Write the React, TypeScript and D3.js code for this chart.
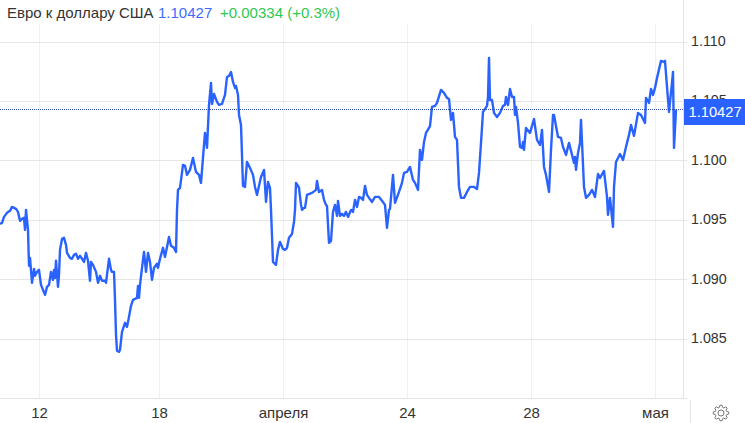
import React from "react";
import * as d3 from "d3";

const W = 745;
const H = 423;

const titleName = "Евро к доллару США";
const titleValue = "1.10427";
const titleChange = "+0.00334 (+0.3%)";
const lastPrice = 1.10427;

const priceTicks = [1.11, 1.105, 1.1, 1.095, 1.09, 1.085];
const timeTickBars = [19.75, 79.75, 141.75, 203.75, 265.75, 327.75];
const timeTickLabels = ["12", "18", "апреля", "24", "28", "мая"];

// Each row: [bar index (half-bar units), rate]
const rowsMarch: [number, number][] = [
  [0,1.09467],[1,1.09476],[2,1.09526],[3.5,1.0956],[5,1.09577],[6,1.0961],[8,1.09593],[9,1.09568],[10,1.09493],[11,1.09509],[12,1.09518],[12.5,1.09417],[13,1.09585],[14,1.09417],[14.5,1.09115],[15,1.09182],[16,1.08972],[17,1.09089],[17.5,1.09031],[18.5,1.09064],[19.5,1.09081],[20.5,1.08955],[21.5,1.08913],[22.5,1.08871],[23.5,1.08938],[24.5,1.08955],[25.5,1.09064],[26.5,1.08997],[27,1.09081],[27.5,1.09014],[28,1.09157],[29,1.08938],[29.5,1.09039],[30,1.09249],[31,1.09341],[32,1.0935],[33,1.09291],[33.5,1.09224],[35,1.09182],[36,1.09174],[37,1.09207],[38,1.09216],[39,1.09174],[40,1.09199],[41,1.09174],[42,1.09148],[43,1.09224],[44,1.09157],[45,1.08989],[45.5,1.09148],[46.5,1.09123],[48,1.09064],[49,1.08972],[50,1.09031],[51,1.08989],[52.5,1.08989],[53,1.08972],[54,1.09106],[54.5,1.09174],[55.5,1.09081],[56,1.09064],[57,1.09064],[57.5,1.08829],[58,1.08535],[58.5,1.08401],[59.5,1.08392],[60,1.08409],[61,1.0856],[62.5,1.08636],[63.5,1.08602],[64.5,1.08686],[65.5,1.08779],[66.5,1.08829],[67.5,1.08837],[68.5,1.08846],[69,1.08946],[69.5,1.08846],[70,1.08955],[71,1.09098],[72,1.09232],[73,1.09064],[74,1.09224],[75,1.09148],[76,1.08997],[77,1.09098],[78.5,1.09132],[79,1.09098],[80,1.09174],[81.5,1.09266],[82.5,1.0919],[83.5,1.09274],[84.5,1.09358],[85.5,1.09283],[87,1.09266],[88,1.09232],
];
const rowsApril: [number, number][] = [
  [88.5,1.09585],[89,1.09753],[90,1.0977],[91.5,1.09963],[92.5,1.09955],[93.5,1.09879],[95,1.09921],[96.5,1.10022],[98,1.09904],[99.5,1.09879],[100.5,1.09812],[102,1.10131],[102.5,1.10232],[103.5,1.10106],[104.5,1.10467],[105.5,1.10652],[106,1.10475],[107,1.10559],[108.5,1.10492],[109.5,1.10467],[111,1.10475],[112.5,1.10551],[113.5,1.10702],[114.5,1.1071],[115.5,1.10744],[116.5,1.1066],[117.5,1.1061],[118,1.10627],[119,1.10551],[119.5,1.10383],[120.5,1.10299],[121.5,1.09787],[122.5,1.09778],[123.5,1.09988],[125,1.09938],[126.5,1.09879],[127.5,1.09778],[128.5,1.09711],[129.5,1.09787],[130.5,1.09862],[132,1.09921],[133,1.09652],[134,1.0982],[135,1.0977],[135.5,1.09585],[136.5,1.09148],[138,1.09123],[139,1.09249],[140,1.09316],[141.5,1.09257],[142.5,1.09249],[143.5,1.09266],[144.5,1.0935],[146,1.09383],[147,1.09484],[147.5,1.09585],[148,1.09812],[149,1.09787],[149.5,1.0977],[150.5,1.09627],[151,1.09585],[152,1.09602],[152.5,1.09602],[153.5,1.09711],[156,1.09728],[158,1.09753],[158.5,1.09829],[159.5,1.09736],[161,1.09753],[162,1.09669],[163,1.09627],[163.5,1.09619],[164.5,1.09308],[165.5,1.09325],[166.5,1.09568],[167.5,1.09627],[168.5,1.09535],[169,1.09661],[170,1.09535],[171,1.09552],[172,1.09535],[173,1.09568],[174,1.09526],[175.5,1.09585],[176.5,1.09568],[177.5,1.09669],[178.5,1.0961],[179.5,1.09694],[180.5,1.09686],[181.5,1.09669],[182.5,1.09787],[183.5,1.09711],[184.5,1.09686],[186,1.09652],[187.5,1.09694],[189.5,1.09694],[191,1.09661],[192.5,1.09627],[193.5,1.09434],[194.5,1.09585],[195,1.09593],[196.5,1.09879],[197.5,1.09644],[199.5,1.09736],[201,1.09812],[202,1.09896],[203.5,1.09904],[205,1.09946],[206.5,1.09837],[207.5,1.09812],[209,1.09753],[210,1.10089],[211,1.10005],[212,1.10156],[213,1.10232],[214.5,1.10274],[215,1.10291],[216,1.1045],[217.5,1.10459],[218.5,1.10484],[220.5,1.10593],[222,1.10568],[223.5,1.10526],[224.5,1.10517],[225.5,1.10341],[226.5,1.104],[227.5,1.10198],[228.5,1.10173],[229.5,1.09778],[230.5,1.09686],[232,1.09686],[233.5,1.09736],[235,1.09778],[237,1.09778],[238.5,1.09761],[239.5,1.09896],[240.5,1.10148],[241.5,1.10408],[243.5,1.10459],[244,1.10534],[244.5,1.10862],[245,1.10509],[246,1.10509],[247,1.104],[248.5,1.10366],[250,1.104],[251.5,1.10459],[252.5,1.10467],[253,1.10534],[254,1.10467],[255,1.10601],[256,1.10534],[257,1.10534],[257.5,1.10383],[258,1.1045],[259,1.10316],[260,1.10114],[261,1.10106],[261.5,1.10156],[262,1.10089],[263,1.10274],[265,1.10232],[267,1.10349],[268.5,1.10173],[270,1.10131],[271,1.10257],[272,1.09946],[273,1.09879],[274.5,1.09736],[275.5,1.10089],[276.5,1.10383],[277,1.10383],[279,1.10198],[280.5,1.1019],[281.5,1.10114],[283,1.10047],[284.5,1.10148],[286,1.10047],[287,1.0998],[287.5,1.1003],[288,1.09921],[289,1.10064],[290,1.10148],[290.5,1.10341],
];
const rowsMay: [number, number][] = [
  [292,1.09778],[293,1.09686],[294.5,1.09711],[296,1.09753],[297.5,1.09694],[299,1.09887],[300,1.09854],[302,1.09912],[303.5,1.09694],[304,1.09543],[305,1.09686],[306.5,1.09442],[307,1.09778],[308,1.09988],[310,1.10055],[311.5,1.10005],[313,1.10114],[314.5,1.10215],[315.5,1.10299],[317,1.10207],[319,1.104],[320.5,1.10383],[322.5,1.10316],[323,1.10526],[324.5,1.10484],[325.5,1.10601],[326.5,1.10551],[327.5,1.1061],[328.5,1.10694],[330.5,1.10837],[332,1.10828],[332.5,1.10837],[333.5,1.10618],[334.5,1.10408],[336,1.10652],[336.5,1.10744],[337,1.10106],[338,1.10427],
];
const rates = [...rowsMarch, ...rowsApril, ...rowsMay];

const x = d3.scaleLinear().domain([0, 341.75]).range([0, 683.5]);
const y = d3.scaleLinear().domain([1.11, 1.085]).range([41.5, 339]);
const line = d3.line<[number, number]>().x((d) => x(d[0])).y((d) => y(d[1]));

const FONT = "'Liberation Sans', Arial, sans-serif";
const BLUE = "#2962ff";
const TEXT = "#333";

function gearPath(cx: number, cy: number) {
  const pts: [number, number][] = [];
  const teeth = 8;
  for (let i = 0; i < teeth; i++) {
    const a = (i / teeth) * 2 * Math.PI;
    const s = (2 * Math.PI) / teeth;
    [[-0.36, 5.8], [-0.17, 7.8], [0.17, 7.8], [0.36, 5.8]].forEach(([f, r]) => {
      pts.push([cx + r * Math.cos(a + f * s), cy + r * Math.sin(a + f * s)]);
    });
  }
  return d3.line()(pts) + "Z";
}

export default function App() {
  return (
    <svg
      width={W}
      height={H}
      viewBox={`0 0 ${W} ${H}`}
      style={{ position: "absolute", left: 0, top: 0, background: "#fff", fontFamily: FONT }}
    >
      {timeTickBars.map((b) => (
        <line key={b} x1={x(b)} x2={x(b)} y1={24} y2={398} stroke="#eef0f3" />
      ))}
      {priceTicks.map((p) => (
        <line key={p} x1={0} x2={687} y1={Math.round(y(p)) + 0.5} y2={Math.round(y(p)) + 0.5} stroke="#e6e6e6" />
      ))}
      <line x1={0} x2={687} y1={398.5} y2={398.5} stroke="#e3e3e3" />
      <line x1={683.5} x2={683.5} y1={0} y2={398} stroke="#e3e3e3" />
      <line x1={690.5} x2={690.5} y1={400} y2={423} stroke="#e3e3e3" />

      <path d={line(rates) ?? ""} fill="none" stroke={BLUE} strokeWidth={2.4} strokeLinejoin="round" />

      <line
        x1={0}
        x2={684}
        y1={Math.floor(y(lastPrice)) + 0.5}
        y2={Math.floor(y(lastPrice)) + 0.5}
        stroke="#2f4fb0"
        strokeDasharray="1 1"
      />

      {priceTicks.map((p) => (
        <text key={p} x={691} y={y(p) - 1} dy="0.36em" fontSize={14.3} fill={TEXT}>
          {p.toFixed(3)}
        </text>
      ))}

      <rect x={684} y={99} width={61} height={26} fill={BLUE} />
      <text x={688.5} y={112} dy="0.36em" fontSize={14.7} fill="#fff">
        {lastPrice.toFixed(5)}
      </text>

      {timeTickBars.map((b, i) => (
        <text key={b} x={x(b)} y={413} dy="0.36em" fontSize={15} fill={TEXT} textAnchor="middle">
          {timeTickLabels[i]}
        </text>
      ))}

      <text x={7} y={13} dy="0.36em" fontSize={15} fill={TEXT}>
        {titleName}
      </text>
      <text x={158} y={13} dy="0.36em" fontSize={15} fill="#3d6bff">
        {titleValue}
      </text>
      <text x={220} y={13} dy="0.36em" fontSize={15} fill="#2fc84f">
        {titleChange}
      </text>

      <path d={gearPath(721, 413)} fill="none" stroke="#777" />
      <circle cx={721} cy={413} r={3} fill="none" stroke="#777" />
    </svg>
  );
}
